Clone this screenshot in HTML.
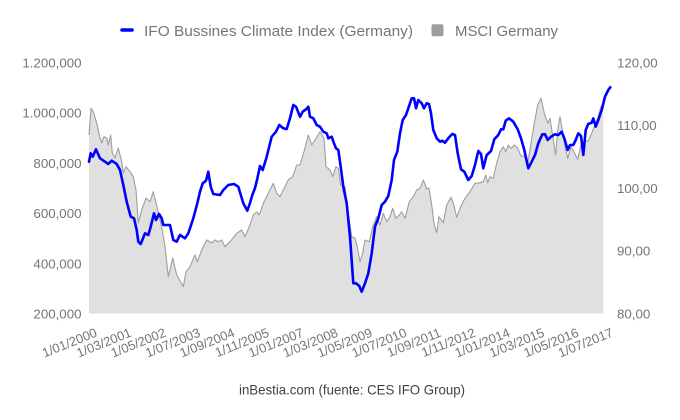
<!DOCTYPE html>
<html>
<head>
<meta charset="utf-8">
<style>
  html,body{margin:0;padding:0;background:#fff;}
  svg{display:block;}
  text{font-family:"Liberation Sans",Arial,sans-serif;}
</style>
</head>
<body>
<svg width="680" height="420" viewBox="0 0 680 420" xmlns="http://www.w3.org/2000/svg">
  <rect x="0" y="0" width="680" height="420" fill="#ffffff"/>

  <!-- Legend -->
  <line x1="122" y1="30" x2="132" y2="30" stroke="#0000ff" stroke-width="3.5" stroke-linecap="round"/>
  <text x="144" y="36" font-size="15" fill="#757575" textLength="269" lengthAdjust="spacingAndGlyphs">IFO Bussines Climate Index (Germany)</text>
  <rect x="431.5" y="24.3" width="12" height="12" rx="2" fill="#9e9e9e"/>
  <text x="455" y="36" font-size="15" fill="#757575" textLength="103" lengthAdjust="spacingAndGlyphs">MSCI Germany</text>

  <!-- MSCI area -->
  <polygon fill="#e0e0e0" stroke="none" points="89,313.5 89,135 91,108.3 93.3,111.7 96.7,123 99.3,135 101.7,143 104,136.7 106.7,138 108.3,145 110.7,135 112.3,153 115,158 118.3,148 121.7,161.7 123.3,173 126,166.7 130,171.7 133.3,176.7 136,190 138.3,223 141.7,210 146,198 150,201.7 153.3,191.7 157.3,208 161.7,226.7 165,246.7 168.3,276.7 172.7,258 176.7,275 183.3,286.7 186,271.7 190,266.7 195,255 197.3,261.7 201.7,250 206.7,240 211.7,243 215,240 218.3,241.7 221.7,240 225,246.7 230,241.7 236.7,233.3 241.7,230 245,236.7 250,225 253.3,215 256.7,212 259.3,215 263.3,203.3 268.3,193.3 273.3,183.3 276.7,193.3 280,196.7 283.3,190 288.3,180 292.7,176.7 296.7,165 300,165 304,151.7 308.3,135 311.7,145 315,140 320,131.7 324,138.3 326,166.7 330,170 332.7,176.7 336,166.7 338.3,168.3 340.7,185 345,186.7 348.3,213.3 351.7,236.7 355,238.3 357.3,246.7 360,261.7 362.7,253.3 365,240 369.3,241.7 372.7,226.7 376.7,216.7 380,225 383.3,213.3 386.7,221.7 390,216.7 392.7,208.3 396,218.3 399.3,215 401.7,211.7 405,218.3 409.3,201.7 413.3,196.7 416.7,190 420,188.3 423.3,180 426.7,189 429,188 431.7,205 434.3,225 436.7,232.7 439,216.7 443.3,222.7 446.7,205 451,197.3 453.3,203.3 456.7,217.3 461,206 465,198.3 470,191.7 475,183.3 480,182.7 483.3,181.7 485.7,175 487.7,182.7 490,176.7 493.3,178.3 496.7,163.3 500,151.7 503.3,146.7 505.7,151.7 508.3,145 511,148.3 514.3,145 517.7,148.3 521,156 524.3,156 527.7,163.3 531,143.3 534.3,123.3 537.7,105 541,98.3 544.3,113.3 547.7,123.3 550,118.3 552.3,133.3 555.7,155 557.7,130 560,116.7 562.3,130 565,146.7 567.7,158.3 571,146.7 574.3,152.7 577.7,159.3 581,145 584.3,141.7 588.3,140.7 591,135 594.3,126.7 597.7,118.3 601,106.7 603.3,104 603.3,313.5"/>
  <polyline fill="none" stroke="#9e9e9e" stroke-width="1.1" stroke-linejoin="round" points="89,135 91,108.3 93.3,111.7 96.7,123 99.3,135 101.7,143 104,136.7 106.7,138 108.3,145 110.7,135 112.3,153 115,158 118.3,148 121.7,161.7 123.3,173 126,166.7 130,171.7 133.3,176.7 136,190 138.3,223 141.7,210 146,198 150,201.7 153.3,191.7 157.3,208 161.7,226.7 165,246.7 168.3,276.7 172.7,258 176.7,275 183.3,286.7 186,271.7 190,266.7 195,255 197.3,261.7 201.7,250 206.7,240 211.7,243 215,240 218.3,241.7 221.7,240 225,246.7 230,241.7 236.7,233.3 241.7,230 245,236.7 250,225 253.3,215 256.7,212 259.3,215 263.3,203.3 268.3,193.3 273.3,183.3 276.7,193.3 280,196.7 283.3,190 288.3,180 292.7,176.7 296.7,165 300,165 304,151.7 308.3,135 311.7,145 315,140 320,131.7 324,138.3 326,166.7 330,170 332.7,176.7 336,166.7 338.3,168.3 340.7,185 345,186.7 348.3,213.3 351.7,236.7 355,238.3 357.3,246.7 360,261.7 362.7,253.3 365,240 369.3,241.7 372.7,226.7 376.7,216.7 380,225 383.3,213.3 386.7,221.7 390,216.7 392.7,208.3 396,218.3 399.3,215 401.7,211.7 405,218.3 409.3,201.7 413.3,196.7 416.7,190 420,188.3 423.3,180 426.7,189 429,188 431.7,205 434.3,225 436.7,232.7 439,216.7 443.3,222.7 446.7,205 451,197.3 453.3,203.3 456.7,217.3 461,206 465,198.3 470,191.7 475,183.3 480,182.7 483.3,181.7 485.7,175 487.7,182.7 490,176.7 493.3,178.3 496.7,163.3 500,151.7 503.3,146.7 505.7,151.7 508.3,145 511,148.3 514.3,145 517.7,148.3 521,156 524.3,156 527.7,163.3 531,143.3 534.3,123.3 537.7,105 541,98.3 544.3,113.3 547.7,123.3 550,118.3 552.3,133.3 555.7,155 557.7,130 560,116.7 562.3,130 565,146.7 567.7,158.3 571,146.7 574.3,152.7 577.7,159.3 581,145 584.3,141.7 588.3,140.7 591,135 594.3,126.7 597.7,118.3 601,106.7 603.3,104"/>

  <!-- IFO line -->
  <polyline fill="none" stroke="#0000ff" stroke-width="2.6" stroke-linejoin="round" stroke-linecap="round" points="89,161.7 90.7,153.3 92.7,156.7 96,149.3 100,158.3 105,161.7 108.3,164 111.7,160.7 116.7,164 120,170 123.3,185 126.7,201.7 130.7,216.7 134,218.3 136.7,230 138.3,241.7 140.7,244 145,233.3 148.3,235 150.7,226.7 154,213.3 156,220 159,214 161.7,218.3 163.3,225 170,225 173.3,240 176.7,241.7 180,235 185,238.3 188.3,233.3 193.3,218.3 197.3,203.3 200,191.7 202.7,183.3 206,180.7 208.3,171.7 210.7,186.7 213.3,194 220,195 223.3,190 228.3,185 234,184 238.3,186.7 243.3,203.3 247.3,210.7 250,203 252,196 255,188 257,180 260,166 262.7,170 266.7,156.7 271.7,136.7 276,131.7 279.3,125 283.3,128.3 286.7,129 290,118.3 293.3,105 296,106.7 300,116.7 302.7,111.7 306,109.3 308.3,106.7 310,116.7 313.3,118.3 316.7,125 320,126.7 323.3,131.7 326.7,133.3 328.3,138.3 331.7,136.7 334,143.3 336,148.3 338.3,150 340.7,166.7 343.3,186.7 346.7,203.3 350,236.7 353.3,283.3 356,283.3 359.3,286 361.7,291.7 365,283.3 368.3,273.3 371.7,253.3 375,226.7 378.3,218.3 381.7,205 385,201.7 388.3,196 391.7,180 394,160 397.3,151.7 400,133.3 402.7,120 406,115 408.3,108.3 411.7,98.3 414,98.3 416,108.3 418.3,100 421.7,103.3 424,108.3 426.7,103.3 429,104 431,113.3 433.3,130 436.7,138.3 440,141.7 442.3,140.7 445,142.7 449,137.3 452.3,134 455,135 457.7,153.3 461,169.3 464.3,171.7 468.3,180 471.7,176 475,165 478.3,151 481,154 483.3,168.3 486.7,155 491,151 494.3,139.3 498.3,135 501,129.3 503.3,129.3 505.7,120.7 509,118.3 513.3,121.7 517.7,129.3 521,138.3 524.3,150 528.3,168.3 531.7,161.7 535,155 538.3,143.3 542.3,134.3 545,134.3 547.7,140 551,136.7 555,134.3 558.3,135 561.7,131.7 564.3,138.3 567.7,150 570,145 573.3,145 575.7,140 578.3,133.3 581,136 583.3,155 585.7,130 588.3,124 591.7,122.7 593.3,118.3 595.7,126.7 598.3,120 601.7,110 605,96.7 608.3,90 610.3,87.3"/>

  <!-- Left axis labels -->
  <g font-size="13.3" fill="#757575" text-anchor="end">
    <text x="81.5" y="67.5">1.200,000</text>
    <text x="81.5" y="117.7">1.000,000</text>
    <text x="81.5" y="167.9">800,000</text>
    <text x="81.5" y="218.1">600,000</text>
    <text x="81.5" y="268.3">400,000</text>
    <text x="81.5" y="318.5">200,000</text>
  </g>

  <!-- Right axis labels -->
  <g font-size="13.3" fill="#757575" text-anchor="start">
    <text x="617" y="67.5">120,00</text>
    <text x="617" y="130.2">110,00</text>
    <text x="617" y="193">100,00</text>
    <text x="617" y="255.7">90,00</text>
    <text x="617" y="318.5">80,00</text>
  </g>

  <!-- X axis labels (slanted) -->
  <g font-size="13" fill="#757575" text-anchor="end">
    <text transform="translate(98,336) rotate(-22)">1/01/2000</text>
    <text transform="translate(132.4,336) rotate(-22)">1/03/2001</text>
    <text transform="translate(166.8,336) rotate(-22)">1/05/2002</text>
    <text transform="translate(201.2,336) rotate(-22)">1/07/2003</text>
    <text transform="translate(235.6,336) rotate(-22)">1/09/2004</text>
    <text transform="translate(270,336) rotate(-22)">1/11/2005</text>
    <text transform="translate(304.4,336) rotate(-22)">1/01/2007</text>
    <text transform="translate(338.8,336) rotate(-22)">1/03/2008</text>
    <text transform="translate(373.2,336) rotate(-22)">1/05/2009</text>
    <text transform="translate(407.6,336) rotate(-22)">1/07/2010</text>
    <text transform="translate(442,336) rotate(-22)">1/09/2011</text>
    <text transform="translate(476.4,336) rotate(-22)">1/11/2012</text>
    <text transform="translate(510.8,336) rotate(-22)">1/01/2014</text>
    <text transform="translate(545.2,336) rotate(-22)">1/03/2015</text>
    <text transform="translate(579.6,336) rotate(-22)">1/05/2016</text>
    <text transform="translate(614,336) rotate(-22)">1/07/2017</text>
  </g>

  <!-- Caption -->
  <text x="239" y="394.5" font-size="14" fill="#424242" textLength="226" lengthAdjust="spacingAndGlyphs">inBestia.com (fuente: CES IFO Group)</text>
</svg>
</body>
</html>
